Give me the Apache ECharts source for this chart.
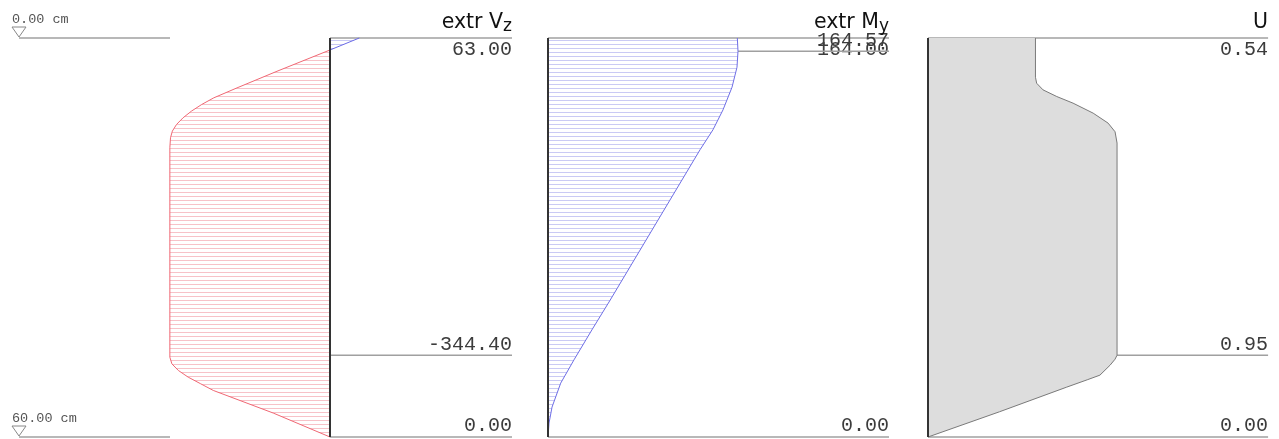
<!DOCTYPE html>
<html>
<head>
<meta charset="utf-8">
<script src="https://cdn.jsdelivr.net/npm/echarts@6/dist/echarts.min.js"></script>
<style>
html,body{margin:0;padding:0;background:#fff;}
#c{width:1279px;height:439px;}
</style>
</head>
<body>
<div id="c"></div>
<script>
// ---- data (depth in cm) ----
const rulerDepth = [0, 60];
const rulerText = ['0.00 cm', '60.00 cm'];

const vzDepth = [0, 1.8, 5, 7.5, 9, 10, 11, 12, 13, 14, 15, 16.5, 48, 49, 50, 51, 52, 53, 56.4, 60];
const vzValue = [63, 0, -114, -200, -250, -276, -298, -316, -330, -339, -343, -344.4, -344.4, -340, -326, -305, -278, -251, -122, 0];

const myDepth = [0, 2.0, 4.4, 7.4, 10.8, 13.8, 16.8, 39.4, 43.9, 48.4, 51.9, 55.5, 57.9, 60];
const myValue = [164.00, 164.57, 163.7, 159.4, 151.6, 142.9, 131.7, 53.9, 38.0, 22.5, 11.0, 3.5, 0.9, 0];

const uDepth = [0, 5.9, 6.8, 7.8, 8.8, 9.8, 11.3, 12.8, 14.1, 15.8, 47.7, 48.3, 49.2, 50.7, 51.4, 52.5, 56.2, 60];
const uValue = [0.54, 0.54, 0.546, 0.578, 0.647, 0.729, 0.83, 0.905, 0.94, 0.95, 0.95, 0.94, 0.915, 0.864, 0.80, 0.697, 0.36, 0];

const vzMarkDepth = [0, 47.7, 60];
const vzMarkFrom = [0, 0, 0];
const vzMarkText = ['63.00', '-344.40', '0.00'];

const myMarkDepth = [0, 2.0, 60];
const myMarkFrom = [0, 164.57, 0];
const myMarkText = ['164.00', '164.57', '0.00'];

const uMarkDepth = [0, 47.7, 60];
const uMarkFrom = [0, 0.95, 0];
const uMarkText = ['0.54', '0.95', '0.00'];

const titleMain = ['extr V', 'extr M', 'U'];
const titleSub = ['z', 'y', ''];

// ---- axis ranges ----
const xRanges = [[0, 1], [-390, 391.4], [0, 295.4], [0, 1.709]];

// ---- helpers ----
function hatch(color) {
  const c = document.createElement('canvas');
  c.width = 8; c.height = 4;
  const g = c.getContext('2d');
  g.fillStyle = color;
  g.fillRect(0, 0, 8, 1);
  return { image: c, repeat: 'repeat' };
}

const VALUE_FONT = '"Liberation Mono", "DejaVu Sans Mono", monospace';
const TITLE_FONT = '"DejaVu Sans", "Liberation Sans", sans-serif';

function areaSeries(gi, depth, value, fill, stroke) {
  const pts = depth.map((d, i) => [value[i], d]);
  return {
    type: 'custom', xAxisIndex: gi, yAxisIndex: gi, clip: false, silent: true,
    data: pts,
    renderItem(params, api) {
      if (params.dataIndex !== 0) return null;
      const line = pts.map(p => api.coord(p));
      const poly = [api.coord([0, pts[0][1]])].concat(line, [api.coord([0, pts[pts.length - 1][1]])]);
      return {
        type: 'group', children: [
          { type: 'polygon', shape: { points: poly }, style: { fill: fill, stroke: null } },
          { type: 'polyline', shape: { points: line }, style: { fill: null, stroke: stroke, lineWidth: 1 } }
        ]
      };
    }
  };
}

function markSeries(gi, depth, from, texts) {
  const xmax = xRanges[gi][1];
  return {
    type: 'custom', xAxisIndex: gi, yAxisIndex: gi, clip: false, silent: true,
    data: depth.map((d, i) => [from[i], d]),
    renderItem(params, api) {
      const d = api.value(1);
      const p0 = api.coord([api.value(0), d]);
      const p1 = api.coord([xmax, d]);
      const below = d === 0;
      return {
        type: 'group', children: [
          { type: 'line', shape: { x1: p0[0], y1: p0[1], x2: p1[0], y2: p1[1] },
            style: { stroke: '#a0a0a0', lineWidth: 1.5 } },
          { type: 'text', x: p1[0], y: below ? p1[1] + 2 : p1[1] - 1,
            style: { text: texts[params.dataIndex], fontSize: 20, fontFamily: VALUE_FONT,
              fill: '#3c3c3c', align: 'right', verticalAlign: below ? 'top' : 'bottom' } }
        ]
      };
    }
  };
}

function baseSeries(gi) {
  return {
    type: 'custom', xAxisIndex: gi, yAxisIndex: gi, clip: false, silent: true,
    data: [[0, 0]],
    renderItem(params, api) {
      const a = api.coord([0, 0]);
      const b = api.coord([0, 60]);
      return { type: 'line', shape: { x1: a[0], y1: a[1], x2: b[0], y2: b[1] },
        style: { stroke: '#333', lineWidth: 2 } };
    }
  };
}

function titleSeries(gi, k) {
  const xmax = xRanges[gi][1];
  const txt = '{m|' + titleMain[k] + '}' + (titleSub[k] ? '{s|' + titleSub[k] + '}' : '');
  return {
    type: 'custom', xAxisIndex: gi, yAxisIndex: gi, clip: false, silent: true,
    data: [[xmax, 0]],
    renderItem(params, api) {
      const p = api.coord([api.value(0), api.value(1)]);
      return {
        type: 'text', x: p[0], y: p[1] - 3,
        style: {
          text: txt, align: 'right', verticalAlign: 'bottom',
          rich: {
            m: { fontSize: 20.5, fontFamily: TITLE_FONT, fill: '#111', lineHeight: 24 },
            s: { fontSize: 17, fontFamily: TITLE_FONT, fill: '#111', lineHeight: 24, padding: [8, 0, 0, 0] }
          }
        }
      };
    }
  };
}

const rulerSeries = {
  type: 'custom', xAxisIndex: 0, yAxisIndex: 0, clip: false, silent: true,
  data: rulerDepth.map(d => [0, d]),
  renderItem(params, api) {
    const d = api.value(1);
    const p0 = api.coord([0, d]);
    const p1 = api.coord([1, d]);
    return {
      type: 'group', children: [
        { type: 'line', shape: { x1: p0[0], y1: p0[1], x2: p1[0], y2: p1[1] },
          style: { stroke: '#a0a0a0', lineWidth: 1.5 } },
        { type: 'polygon', shape: { points: [[p0[0] - 7, p0[1] - 11], [p0[0] + 7, p0[1] - 11], [p0[0], p0[1] - 1]] },
          style: { fill: '#fff', stroke: '#888', lineWidth: 1 } },
        { type: 'text', x: p0[0] - 7, y: p0[1] - 19,
          style: { text: rulerText[params.dataIndex], fontSize: 13.5, fontFamily: VALUE_FONT,
            fill: '#555', align: 'left', verticalAlign: 'middle' } }
      ]
    };
  }
};

const split = vzValue.indexOf(0);
const vzPosDepth = vzDepth.slice(0, split + 1), vzPosValue = vzValue.slice(0, split + 1);
const vzNegDepth = vzDepth.slice(split), vzNegValue = vzValue.slice(split);

const gridPx = [
  { left: 19, width: 151 },
  { left: 148.65, width: 781.4 * 0.465 },
  { left: 548, width: 295.4 * 1.1545 },
  { left: 928, width: 1.709 * 199 }
];

const option = {
  backgroundColor: '#fff',
  animation: false,
  grid: gridPx.map(g => ({ left: g.left, width: g.width, top: 38, height: 399 })),
  xAxis: xRanges.map((r, i) => ({ gridIndex: i, type: 'value', min: r[0], max: r[1], show: false })),
  yAxis: xRanges.map((r, i) => ({ gridIndex: i, type: 'value', min: 0, max: 60, inverse: true, show: false })),
  series: [
    rulerSeries,
    markSeries(1, vzMarkDepth, vzMarkFrom, vzMarkText),
    areaSeries(1, vzNegDepth, vzNegValue, hatch('#f7c2c8'), '#f06874'),
    areaSeries(1, vzPosDepth, vzPosValue, hatch('#cacaf4'), '#6b6be6'),
    baseSeries(1),
    titleSeries(1, 0),
    markSeries(2, myMarkDepth, myMarkFrom, myMarkText),
    areaSeries(2, myDepth, myValue, hatch('#cacaf4'), '#6e6ee6'),
    baseSeries(2),
    titleSeries(2, 1),
    markSeries(3, uMarkDepth, uMarkFrom, uMarkText),
    areaSeries(3, uDepth, uValue, '#dddddd', '#7a7a7a'),
    baseSeries(3),
    titleSeries(3, 2)
  ]
};

const chart = echarts.init(document.getElementById('c'));
chart.setOption(option);
</script>
</body>
</html>
